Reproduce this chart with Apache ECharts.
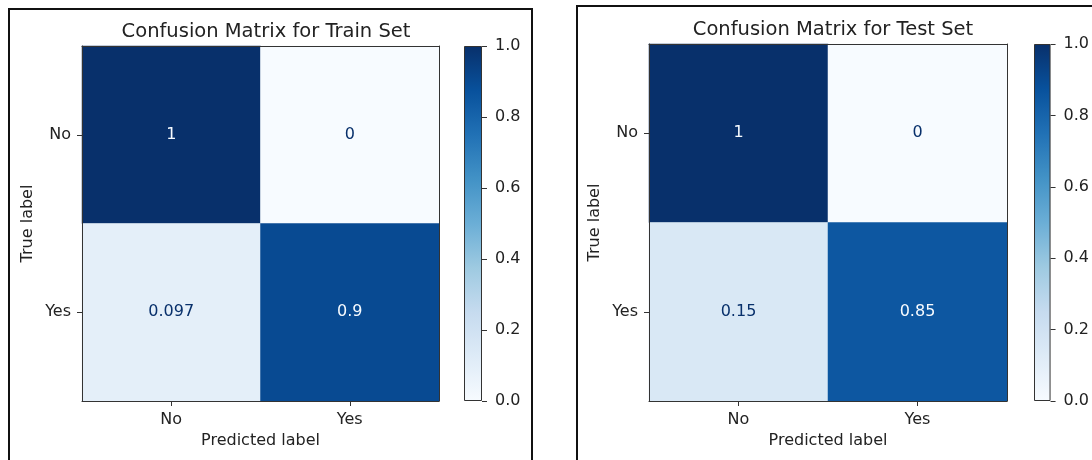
<!DOCTYPE html>
<html>
<head>
<meta charset="utf-8">
<style>
  html, body { margin: 0; padding: 0; background: #fff; }
  #chart { width: 1092px; height: 460px; }
</style>
<script src="https://cdn.jsdelivr.net/npm/echarts@6/dist/echarts.min.js"></script>
</head>
<body>
<div id="chart"></div>
<script>
// Class labels shared by both confusion matrices
const predictedLabels = ['No', 'Yes'];
const trueLabels = ['No', 'Yes'];

// Normalised confusion matrices, rows = true label, columns = predicted label
const trainMatrix = [
  [1, 0],
  [0.097, 0.9]
];
const testMatrix = [
  [1, 0],
  [0.15, 0.85]
];

const panelTitles = ['Confusion Matrix for Train Set', 'Confusion Matrix for Test Set'];

// matplotlib "Blues" colormap stops
const blues = ['#f7fbff', '#deebf7', '#c6dbef', '#9ecae1', '#6baed6',
               '#4292c6', '#2171b5', '#08519c', '#08306b'];

const FONT = 'DejaVu Sans';
const TEXT = '#222';
const SPINE = '#333';
const LABEL_SIZE = 16;

function cells(matrix) {
  const out = [];
  matrix.forEach((row, r) => {
    row.forEach((v, c) => {
      out.push({
        value: [c, r, v],
        label: { color: v < 0.5 ? blues[8] : blues[0] }
      });
    });
  });
  return out;
}

// panel geometry: heatmap grid and colorbar grid
const panels = [
  { heat: { left: 82, top: 46, width: 357, height: 355 },
    bar:  { left: 464, top: 46, width: 18, height: 355 },
    titleX: 261, titleTop: 17, matrix: trainMatrix },
  { heat: { left: 649, top: 44, width: 358, height: 357 },
    bar:  { left: 1034, top: 44, width: 19, height: 357 },
    titleX: 828, titleTop: 15, matrix: testMatrix }
];

const grid = [], xAxis = [], yAxis = [], series = [], title = [];

panels.forEach((p, i) => {
  const gHeat = grid.length;
  grid.push(Object.assign({ containLabel: false }, p.heat));
  const gBar = grid.length;
  grid.push(Object.assign({ containLabel: false }, p.bar));

  title.push({
    text: panelTitles[i],
    left: p.titleX, top: p.titleTop, textAlign: 'center',
    textStyle: { fontFamily: FONT, fontSize: 19.5, fontWeight: 'normal', color: TEXT }
  });

  const xMain = xAxis.length;
  xAxis.push({
    gridIndex: gHeat, type: 'category', data: predictedLabels, position: 'bottom', z: 5,
    axisLine: { show: true, lineStyle: { color: SPINE, width: 1 } },
    axisTick: { show: true, alignWithLabel: true, length: 5, lineStyle: { color: SPINE } },
    axisLabel: { fontFamily: FONT, fontSize: LABEL_SIZE, color: TEXT, margin: 11 },
    splitLine: { show: false },
    name: 'Predicted label', nameLocation: 'middle', nameGap: 32,
    nameTextStyle: { fontFamily: FONT, fontSize: LABEL_SIZE, color: TEXT }
  });
  xAxis.push({
    gridIndex: gHeat, type: 'category', data: predictedLabels, position: 'top', z: 5,
    axisLine: { show: true, lineStyle: { color: SPINE, width: 1 } },
    axisTick: { show: false }, axisLabel: { show: false }, splitLine: { show: false }
  });
  const yMain = yAxis.length;
  yAxis.push({
    gridIndex: gHeat, type: 'category', data: trueLabels, inverse: true, position: 'left', z: 5,
    axisLine: { show: true, lineStyle: { color: SPINE, width: 1 } },
    axisTick: { show: true, alignWithLabel: true, length: 5, lineStyle: { color: SPINE } },
    axisLabel: { fontFamily: FONT, fontSize: LABEL_SIZE, color: TEXT, margin: 11 },
    splitLine: { show: false },
    name: 'True label', nameLocation: 'middle', nameGap: 46, nameRotate: 90,
    nameTextStyle: { fontFamily: FONT, fontSize: LABEL_SIZE, color: TEXT }
  });
  yAxis.push({
    gridIndex: gHeat, type: 'category', data: trueLabels, inverse: true, position: 'right', z: 5,
    axisLine: { show: true, lineStyle: { color: SPINE, width: 1 } },
    axisTick: { show: false }, axisLabel: { show: false }, splitLine: { show: false }
  });

  series.push({
    type: 'heatmap',
    xAxisIndex: xMain, yAxisIndex: yMain,
    data: cells(p.matrix),
    label: {
      show: true, fontFamily: FONT, fontSize: LABEL_SIZE,
      formatter: (d) => String(d.value[2])
    },
    itemStyle: { borderWidth: 0 },
    emphasis: { disabled: true },
    silent: true,
    z: 1
  });

  // colorbar
  const xBar = xAxis.length;
  xAxis.push({
    gridIndex: gBar, type: 'category', data: [''], show: false
  });
  const yBar = yAxis.length;
  yAxis.push({
    gridIndex: gBar, type: 'value', min: 0, max: 1, interval: 0.2, position: 'right',
    axisLine: { show: false },
    axisTick: { show: true, length: 5, lineStyle: { color: SPINE } },
    axisLabel: { fontFamily: FONT, fontSize: LABEL_SIZE, color: TEXT, margin: 13,
                 formatter: (v) => v.toFixed(1) },
    splitLine: { show: false }
  });
  series.push({
    type: 'bar',
    xAxisIndex: xBar, yAxisIndex: yBar,
    data: [1],
    barWidth: '100%',
    silent: true,
    itemStyle: {
      borderColor: SPINE, borderWidth: 1,
      color: new echarts.graphic.LinearGradient(0, 0, 0, 1,
        blues.slice().reverse().map((c, k) => ({ offset: k / (blues.length - 1), color: c })))
    }
  });
});

const chart = echarts.init(document.getElementById('chart'), null, { renderer: 'canvas' });
chart.setOption({
  backgroundColor: '#fff',
  animation: false,
  textStyle: { fontFamily: FONT },
  title: title,
  grid: grid,
  xAxis: xAxis,
  yAxis: yAxis,
  visualMap: {
    type: 'continuous', show: false, min: 0, max: 1,
    seriesIndex: [0, 2],
    inRange: { color: blues }
  },
  series: series,
  // frames around the two figure panels
  graphic: [
    { type: 'rect', shape: { x: 9, y: 9, width: 523, height: 480 },
      style: { fill: null, stroke: '#111', lineWidth: 2 }, silent: true, z: 100 },
    { type: 'rect', shape: { x: 577, y: 6, width: 600, height: 500 },
      style: { fill: null, stroke: '#111', lineWidth: 2 }, silent: true, z: 100 }
  ]
});
</script>
</body>
</html>
